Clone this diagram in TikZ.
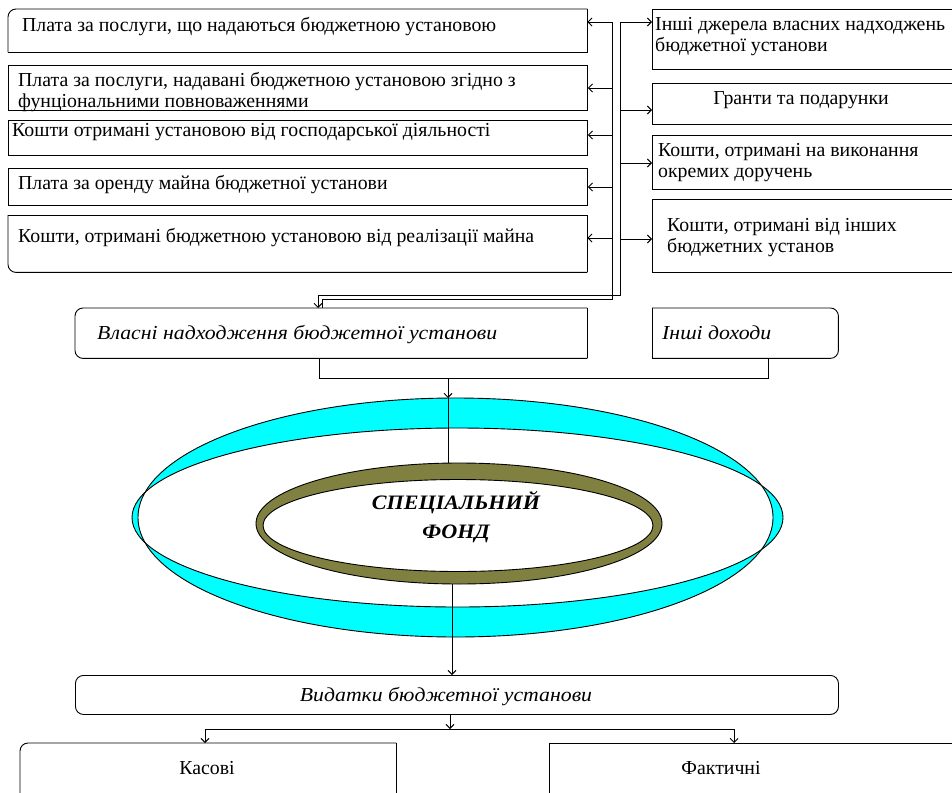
\documentclass[tikz,border=0pt]{standalone}
\usepackage{fontspec}
\setmainfont{Liberation Serif}
\newfontface\wideit{Liberation Serif Italic}[FakeStretch=1.10]
\newfontface\widebi{Liberation Serif Bold Italic}[FakeStretch=1.08]
\usetikzlibrary{arrows.meta}
\definecolor{ringcyan}{RGB}{0,255,255}
\definecolor{ringolive}{RGB}{128,128,64}
\begin{document}
\begin{tikzpicture}[x=1pt,y=-1pt,
  lw/.style={line width=0.9pt},
  box/.style={lw, draw, anchor=north west, inner sep=0pt},
  frame/.style={draw=none, anchor=north west, inner sep=0pt},
  rc/.style={lw, rounded corners=8pt},
  txt/.style={inner sep=0pt, align=left, font=\fontsize{19.8}{21}\selectfont},
  itxt/.style={inner sep=0pt, align=left, font=\fontsize{19.8}{21}\selectfont\wideit},
  arr/.style={lw, -{Straight Barb[length=4pt,width=8pt]}},
  line/.style={lw}
]
\useasboundingbox (0,0) rectangle (952,792);
\clip (0,0) rectangle (952,792);

% ---------- left boxes ----------
\node[frame, minimum width=579pt, minimum height=43pt] (b1) at (8,9) {};
\draw[rc] (b1.south west) |- (b1.north east);
\draw[lw] (b1.north east) |- (b1.south west);
\node[txt, anchor=west] (b1t) at (22,27) {Плата за послуги, що надаються бюджетною установою};

\node[box, minimum width=579pt, minimum height=45pt] (b2) at (8,65) {};
\node[txt, anchor=west] (b2t) at (18,92) {Плата за послуги, надавані бюджетною установою згідно з\\фунціональними повноваженнями};

\node[box, minimum width=579pt, minimum height=35pt] (b3) at (8,120) {};
\node[txt, anchor=west] (b3t) at (12,132) {Кошти отримані установою від господарської діяльності};

\node[box, minimum width=579pt, minimum height=37pt] (b4) at (8,168) {};
\node[txt, anchor=west] (b4t) at (18,185) {Плата за оренду майна бюджетної установи};

\node[frame, minimum width=579pt, minimum height=57pt] (b5) at (8,215) {};
\draw[rc] (b5.north west) |- (b5.south east);
\draw[lw] (b5.south east) |- (b5.north west);
\node[txt, anchor=west] (b5t) at (18,238) {Кошти, отримані бюджетною установою від реалізації майна};

% ---------- right boxes ----------
\node[box, minimum width=310pt, minimum height=60pt] (r1) at (652,9) {};
\node[txt, anchor=west] (r1t) at (655,37) {Інші джерела власних надходжень\\бюджетної установи};

\node[box, minimum width=310pt, minimum height=41pt] (r2) at (652,83) {};
\node[txt] (r2t) at (801,100) {Гранти та подарунки};

\node[box, minimum width=310pt, minimum height=54pt] (r3) at (652,135) {};
\node[txt, anchor=west] (r3t) at (658,163) {Кошти, отримані на виконання\\окремих доручень};

\node[box, minimum width=310pt, minimum height=73pt] (r4) at (652,199) {};
\node[txt, anchor=west] (r4t) at (667,238) {Кошти, отримані від інших\\бюджетних установ};

% ---------- distribution lines ----------
\coordinate (LA) at (612,22);
\coordinate (RA) at (620,22);
\draw[line] (LA) |- (322,299) -- (322,308);
\draw[line] (RA) |- (318,295) -- (318,300);

\foreach \y/\b in {22/b1, 88/b2, 135/b3, 187/b4, 238/b5}{
  \draw[arr] (612,\y) -- (\b.east |- 612,\y);
}
\foreach \y/\b in {22/r1, 110/r2, 163/r3, 239/r4}{
  \draw[arr] (620,\y) -- (\b.west |- 620,\y);
}

% ---------- middle row ----------
\node[frame, minimum width=512pt, minimum height=50pt] (v) at (75,308) {};
\draw[rc] (v.north east) -- (v.north west) -- (v.south west) -- (v.south east);
\draw[lw] (v.south east) -- (v.north east);
\node[itxt, anchor=west] (vt) at (97,335) {Власні надходження бюджетної установи};

\node[frame, minimum width=186pt, minimum height=50pt] (i) at (652,308) {};
\draw[rc] (i.north west) -- (i.north east) -- (i.south east) -- (i.south west);
\draw[lw] (i.south west) -- (i.north west);
\node[itxt, anchor=west] (it) at (662,333) {Інші доходи};

\coordinate (va) at (318,298);
\draw[arr] (va) -- (va |- v.north);

\coordinate (j1) at (319,378);
\coordinate (j2) at (768,378);
\draw[line] (j1 |- v.south) -- (j1) -- (j2) -- (j2 |- i.south);

% ---------- rings ----------
\fill[ringcyan, even odd rule]
  (455.5,517.5) ellipse [x radius=317.5pt, y radius=119.5pt]
  (457.5,517.5) ellipse [x radius=325.5pt, y radius=89.5pt];
\draw[lw] (455.5,517.5) ellipse [x radius=317.5pt, y radius=119.5pt];
\draw[lw] (457.5,517.5) ellipse [x radius=325.5pt, y radius=89.5pt];

\fill[ringolive, even odd rule]
  (459,523.5) ellipse [x radius=203pt, y radius=60.5pt]
  (458,525.5) ellipse [x radius=195pt, y radius=46pt];
\draw[lw] (459,523.5) ellipse [x radius=203pt, y radius=60.5pt];
\draw[lw] (458,525.5) ellipse [x radius=195pt, y radius=46pt];

\node[inner sep=0pt, align=center, font=\fontsize{20.5}{29}\selectfont\widebi] (sf) at (456,517.5) {СПЕЦІАЛЬНИЙ\\ФОНД};

\coordinate (t0) at (448,378);
\coordinate (t1) at (448,398);
\coordinate (t2) at (448,463);
\draw[arr] (t0) -- (t1);
\draw[line] (t1) -- (t2);

% ---------- expenses ----------
\node[box, rounded corners=8pt, minimum width=763pt, minimum height=39pt] (w) at (75,675) {};
\node[itxt] (wt) at (446,697) {Видатки бюджетної установи};

\coordinate (e1) at (452,584);
\draw[arr] (e1) -- (e1 |- w.north);

\coordinate (s0) at (450,729);
\draw[arr] (w.south -| s0) -- (s0);

\node[frame, minimum width=376pt, minimum height=60pt] (k) at (20,743) {};
\draw[rc] (k.south west) |- (k.north east);
\draw[lw] (k.north east) -- (k.south east);
\node[txt] (kt) at (207,768) {Касові};

\node[box, minimum width=420pt, minimum height=60pt] (f) at (549,743) {};
\node[txt] (ft) at (721,768) {Фактичні};

\coordinate (h1) at (205,729);
\coordinate (h2) at (734,729);
\draw[line] (h1) -- (h2);
\draw[arr] (h1) -- (h1 |- k.north);
\draw[arr] (h2) -- (h2 |- f.north);
\end{tikzpicture}
\end{document}
